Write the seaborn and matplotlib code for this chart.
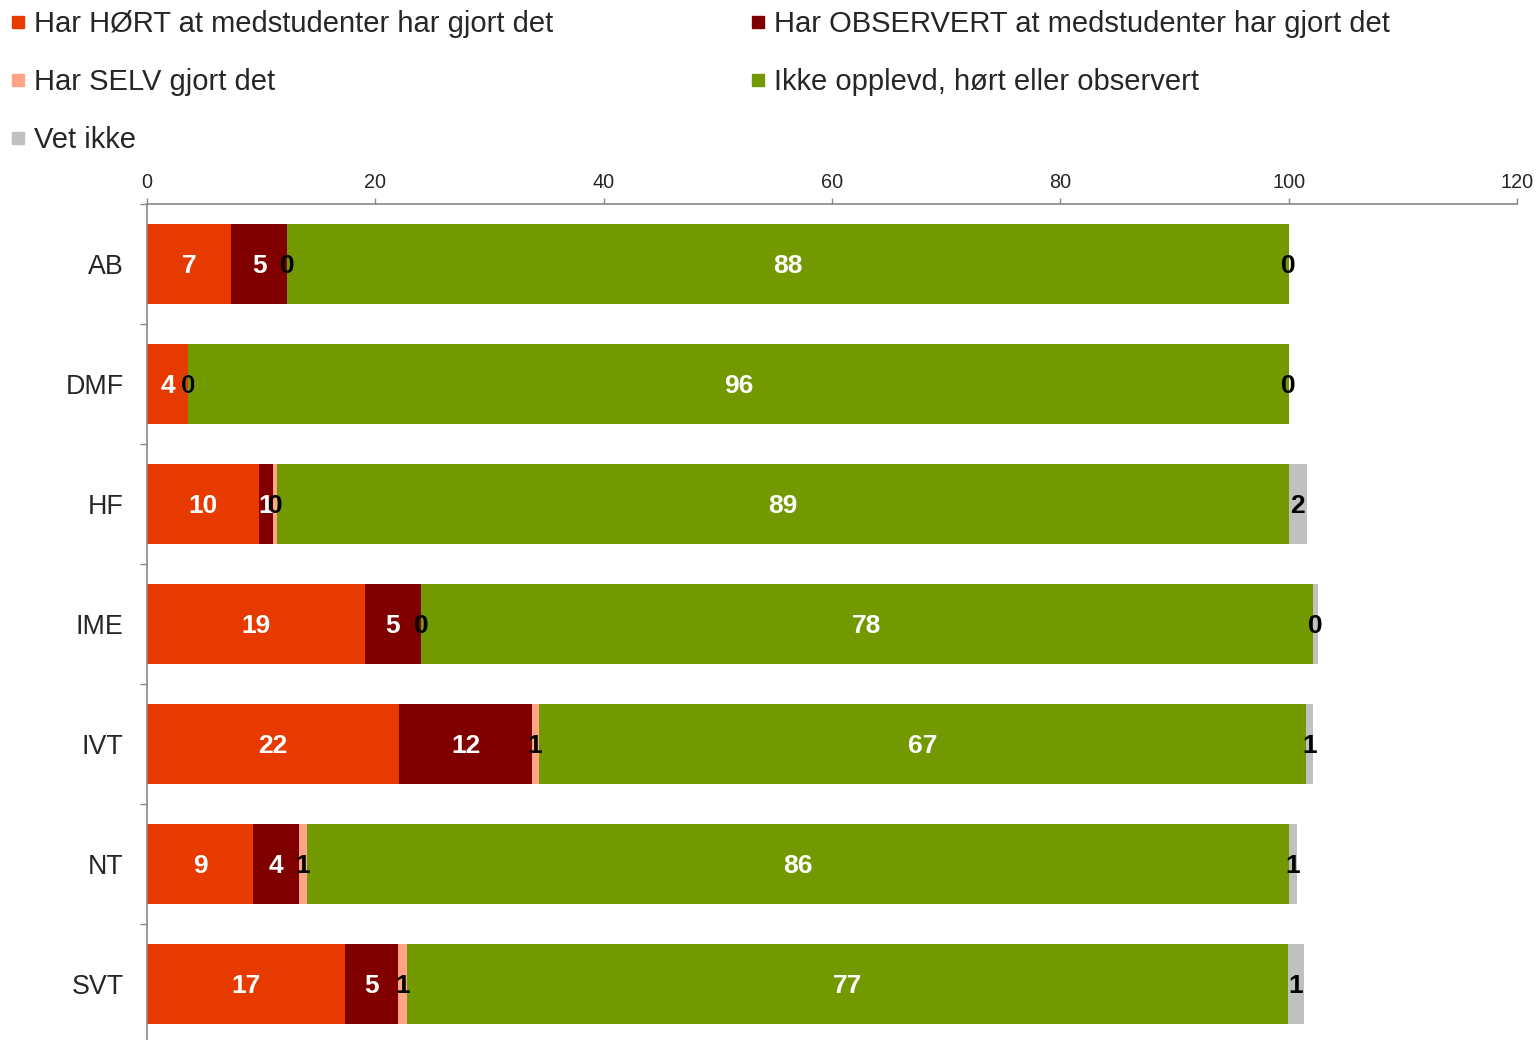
import pandas as pd
import seaborn as sns
import matplotlib.pyplot as plt
from matplotlib.lines import Line2D

fakultet = ["AB", "DMF", "HF", "IME", "IVT", "NT", "SVT"]
hort = [7.4, 3.6, 9.8, 19.1, 22.1, 9.3, 17.3]
observert = [4.9, 0.0, 1.2, 4.9, 11.6, 4.0, 4.7]
selv = [0.0, 0.0, 0.4, 0.0, 0.6, 0.7, 0.75]
ikke = [87.7, 96.4, 88.6, 78.1, 67.2, 86.0, 77.2]
vet_ikke = [0.0, 0.0, 1.6, 0.45, 0.6, 0.7, 1.35]

serier = ["Har HØRT at medstudenter har gjort det",
          "Har OBSERVERT at medstudenter har gjort det",
          "Har SELV gjort det",
          "Ikke opplevd, hørt eller observert",
          "Vet ikke"]
farger = ["#E63A00", "#800000", "#FFA485", "#729A00", "#C0C0C0"]
tekstfarger = ["white", "white", "black", "white", "black"]

sns.set_style("white")
plt.rcParams["font.family"] = ["Liberation Sans", "DejaVu Sans"]

df = pd.DataFrame({"Fakultet": fakultet})
for navn, verdier in zip(serier, [hort, observert, selv, ikke, vet_ikke]):
    df[navn] = verdier
cum = df[serier].cumsum(axis=1)
for navn in serier:
    df["cum_" + navn] = cum[navn]

fig = plt.figure(figsize=(15.37, 10.40), dpi=100)
ax = fig.add_axes([147 / 1537, -4 / 1040, 1370 / 1537, 840 / 1040])

# stablede stolper: tegn kumulative summer bakfra
for navn, farge in reversed(list(zip(serier, farger))):
    sns.barplot(data=df, x="cum_" + navn, y="Fakultet", color=farge,
                saturation=1, width=0.667, errorbar=None, ax=ax,
                linewidth=0)

# verdier midt i hvert segment
for navn, tf in zip(serier, tekstfarger):
    for i in range(len(df)):
        v = df.loc[i, navn]
        x = df.loc[i, "cum_" + navn] - v / 2
        ax.text(x, i + 0.02, "%.0f" % v, ha="center", va="center", color=tf,
                fontsize=19, fontweight="bold")

ax.set_xlim(0, 120)
ax.set_xticks(range(0, 121, 20))
ax.xaxis.tick_top()
ax.set_xlabel("")
ax.set_ylabel("")
ax.set_yticks(range(len(fakultet)))
ax.set_yticks([i - 0.5 for i in range(len(fakultet) + 1)], minor=True)
ax.tick_params(axis="x", which="major", direction="out", length=4, width=1,
               color="#888888", labelsize=14.3, pad=5, top=True, bottom=False)
ax.tick_params(axis="y", which="major", length=0, labelsize=19.3, pad=17)
ax.tick_params(axis="y", which="minor", direction="out", length=5, width=1,
               color="#888888", left=True)
for s in ["right", "bottom"]:
    ax.spines[s].set_visible(False)
for s in ["top", "left"]:
    ax.spines[s].set_color("#888888")
    ax.spines[s].set_linewidth(1.2)

rekkefolge = [0, 2, 4, 1, 3]
handles = [Line2D([], [], linestyle="none", marker="s", markersize=8.5,
                  color=farger[k]) for k in rekkefolge]
labels = [serier[k] for k in rekkefolge]
fig.legend(handles, labels, loc="upper left", bbox_to_anchor=(0.002, 0.9976),
           ncol=2, frameon=False, fontsize=21, handlelength=0.5,
           handletextpad=0.3, labelspacing=1.04, columnspacing=6.79,
           borderpad=0.25, borderaxespad=0)

fig.savefig("out.png", dpi=100)
